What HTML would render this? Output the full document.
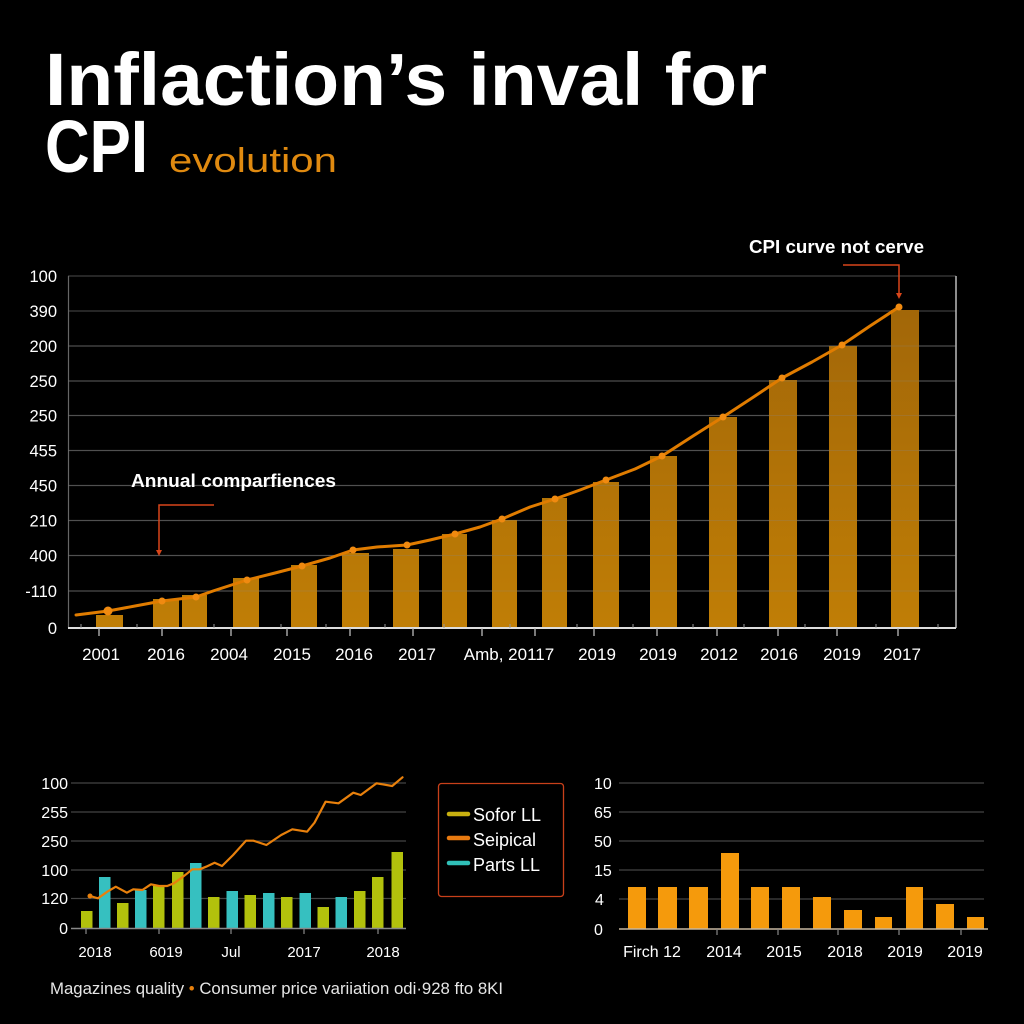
<!DOCTYPE html>
<html>
<head>
<meta charset="utf-8">
<style>
html,body{margin:0;padding:0;background:#000;}
body{width:1024px;height:1024px;overflow:hidden;}
svg{display:block;font-family:"Liberation Sans",sans-serif;}
</style>
</head>
<body>
<svg width="1024" height="1024" viewBox="0 0 1024 1024" xmlns="http://www.w3.org/2000/svg">
<defs>
<linearGradient id="barg" gradientUnits="userSpaceOnUse" x1="0" y1="300" x2="0" y2="628">
<stop offset="0" stop-color="#a16608"/>
<stop offset="1" stop-color="#c07e06"/>
</linearGradient>
</defs>
<rect width="1024" height="1024" fill="#000"/>

<!-- Title -->
<text x="45" y="105" fill="#fff" font-size="74" font-weight="bold" textLength="722" lengthAdjust="spacingAndGlyphs">Inflaction’s inval for</text>
<text x="45" y="172" fill="#fff" font-size="74" font-weight="bold" textLength="103" lengthAdjust="spacingAndGlyphs">CPI</text>
<text x="169" y="172" fill="#e08a10" font-size="34" textLength="168" lengthAdjust="spacingAndGlyphs">evolution</text>

<!-- Main chart gridlines -->
<g stroke="#3e3e3e" stroke-width="1.2">
<line x1="68" y1="276" x2="956" y2="276"/>
<line x1="68" y1="311" x2="956" y2="311"/>
<line x1="68" y1="346" x2="956" y2="346"/>
<line x1="68" y1="381" x2="956" y2="381"/>
<line x1="68" y1="415.5" x2="956" y2="415.5"/>
<line x1="68" y1="450.5" x2="956" y2="450.5"/>
<line x1="68" y1="485.5" x2="956" y2="485.5"/>
<line x1="68" y1="520.5" x2="956" y2="520.5"/>
<line x1="68" y1="555.5" x2="956" y2="555.5"/>
<line x1="68" y1="591" x2="956" y2="591"/>
</g>
<line x1="68.5" y1="276" x2="68.5" y2="628" stroke="#666" stroke-width="1.2"/>
<line x1="956" y1="276" x2="956" y2="628" stroke="#bbb" stroke-width="1.5"/>

<!-- Main bars -->
<g fill="url(#barg)">
<rect x="96" y="615" width="27" height="13"/>
<rect x="153" y="599" width="26" height="29"/>
<rect x="182" y="595" width="25" height="33"/>
<rect x="233" y="578" width="26" height="50"/>
<rect x="291" y="565" width="26" height="63"/>
<rect x="342" y="553" width="27" height="75"/>
<rect x="393" y="549" width="26" height="79"/>
<rect x="442" y="534" width="25" height="94"/>
<rect x="492" y="520" width="25" height="108"/>
<rect x="542" y="498" width="25" height="130"/>
<rect x="593" y="482" width="26" height="146"/>
<rect x="650" y="456" width="27" height="172"/>
<rect x="709" y="417" width="28" height="211"/>
<rect x="769" y="380" width="28" height="248"/>
<rect x="829" y="346" width="28" height="282"/>
<rect x="891" y="310" width="28" height="318"/>
</g>
<!-- faint gridlines through bars -->
<g stroke="#888" stroke-opacity="0.25" stroke-width="1">
<line x1="68" y1="346" x2="956" y2="346"/>
<line x1="68" y1="381" x2="956" y2="381"/>
<line x1="68" y1="415.5" x2="956" y2="415.5"/>
<line x1="68" y1="450.5" x2="956" y2="450.5"/>
<line x1="68" y1="485.5" x2="956" y2="485.5"/>
<line x1="68" y1="520.5" x2="956" y2="520.5"/>
<line x1="68" y1="555.5" x2="956" y2="555.5"/>
<line x1="68" y1="591" x2="956" y2="591"/>
</g>

<!-- bottom axis -->
<line x1="68" y1="628" x2="956" y2="628" stroke="#ddd" stroke-width="2"/>
<g stroke="#bbb" stroke-width="1.3">
<line x1="99" y1="628" x2="99" y2="636"/>
<line x1="162" y1="628" x2="162" y2="636"/>
<line x1="231" y1="628" x2="231" y2="636"/>
<line x1="287" y1="628" x2="287" y2="636"/>
<line x1="350" y1="628" x2="350" y2="636"/>
<line x1="413" y1="628" x2="413" y2="636"/>
<line x1="482" y1="628" x2="482" y2="636"/>
<line x1="535" y1="628" x2="535" y2="636"/>
<line x1="594" y1="628" x2="594" y2="636"/>
<line x1="657" y1="628" x2="657" y2="636"/>
<line x1="717" y1="628" x2="717" y2="636"/>
<line x1="778" y1="628" x2="778" y2="636"/>
<line x1="837" y1="628" x2="837" y2="636"/>
<line x1="898" y1="628" x2="898" y2="636"/>
</g>
<g stroke="#999" stroke-width="1">
<line x1="81" y1="624" x2="81" y2="628"/>
<line x1="137" y1="624" x2="137" y2="628"/>
<line x1="214" y1="624" x2="214" y2="628"/>
<line x1="281" y1="624" x2="281" y2="628"/>
<line x1="326" y1="624" x2="326" y2="628"/>
<line x1="385" y1="624" x2="385" y2="628"/>
<line x1="444" y1="624" x2="444" y2="628"/>
<line x1="510" y1="624" x2="510" y2="628"/>
<line x1="577" y1="624" x2="577" y2="628"/>
<line x1="633" y1="624" x2="633" y2="628"/>
<line x1="693" y1="624" x2="693" y2="628"/>
<line x1="744" y1="624" x2="744" y2="628"/>
<line x1="805" y1="624" x2="805" y2="628"/>
<line x1="876" y1="624" x2="876" y2="628"/>
<line x1="938" y1="624" x2="938" y2="628"/>
</g>

<!-- CPI line -->
<polyline fill="none" stroke="#e07c00" stroke-width="3" stroke-linejoin="round" stroke-linecap="round"
points="76,615 108,611 135,606 162,601 196,597 213,591 247,580 275,573 302,566 330,558 353,550 377,547 407,545 430,540 455,534 480,527 502,519 530,507 555,499 580,490 606,480 635,469 662,456 693,436 723,417 752,398 782,378 812,362 842,345 870,326 899,307"/>
<g fill="#f08a10">
<circle cx="108" cy="611" r="4.5"/>
<circle cx="162" cy="601" r="3.5"/>
<circle cx="196" cy="597" r="3.5"/>
<circle cx="247" cy="580" r="3.5"/>
<circle cx="302" cy="566" r="3.5"/>
<circle cx="353" cy="550" r="3.5"/>
<circle cx="407" cy="545" r="3.5"/>
<circle cx="455" cy="534" r="3.5"/>
<circle cx="502" cy="519" r="3.5"/>
<circle cx="555" cy="499" r="3.5"/>
<circle cx="606" cy="480" r="3.5"/>
<circle cx="662" cy="456" r="3.5"/>
<circle cx="723" cy="417" r="3.5"/>
<circle cx="782" cy="378" r="3.5"/>
<circle cx="842" cy="345" r="3.5"/>
<circle cx="899" cy="307" r="3.5"/>
</g>

<!-- Y labels main -->
<g fill="#fff" font-size="16.5" text-anchor="end">
<text x="57" y="282">100</text>
<text x="57" y="317">390</text>
<text x="57" y="352">200</text>
<text x="57" y="387">250</text>
<text x="57" y="421.5">250</text>
<text x="57" y="456.5">455</text>
<text x="57" y="491.5">450</text>
<text x="57" y="526.5">210</text>
<text x="57" y="561.5">400</text>
<text x="57" y="597">-110</text>
<text x="57" y="634">0</text>
</g>

<!-- X labels main -->
<g fill="#fff" font-size="17" text-anchor="middle">
<text x="101" y="660">2001</text>
<text x="166" y="660">2016</text>
<text x="229" y="660">2004</text>
<text x="292" y="660">2015</text>
<text x="354" y="660">2016</text>
<text x="417" y="660">2017</text>
<text x="509" y="660">Amb, 20117</text>
<text x="597" y="660">2019</text>
<text x="658" y="660">2019</text>
<text x="719" y="660">2012</text>
<text x="779" y="660">2016</text>
<text x="842" y="660">2019</text>
<text x="902" y="660">2017</text>
</g>

<!-- Annotations -->
<text x="131" y="487" fill="#fff" font-size="18.5" font-weight="bold" textLength="205" lengthAdjust="spacingAndGlyphs">Annual comparfiences</text>
<polyline points="214,505 159,505 159,551" fill="none" stroke="#d9461a" stroke-width="1.5"/>
<polygon points="156,550 162,550 159,556" fill="#d9461a"/>

<text x="749" y="253" fill="#fff" font-size="18.5" font-weight="bold" textLength="175" lengthAdjust="spacingAndGlyphs">CPI curve not cerve</text>
<polyline points="843,265 899,265 899,294" fill="none" stroke="#d9461a" stroke-width="1.5"/>
<polygon points="896,293 902,293 899,299" fill="#d9461a"/>

<!-- Bottom-left chart -->
<g stroke="#444" stroke-width="1.2">
<line x1="71" y1="783" x2="406" y2="783"/>
<line x1="71" y1="812" x2="406" y2="812"/>
<line x1="71" y1="841" x2="406" y2="841"/>
<line x1="71" y1="870" x2="406" y2="870"/>
<line x1="71" y1="898.5" x2="406" y2="898.5"/>
</g>
<g fill="#b2c10c">
<rect x="81" y="911" width="11.5" height="17"/>
<rect x="117" y="903" width="11.5" height="25"/>
<rect x="153" y="886" width="11.5" height="42"/>
<rect x="172" y="872" width="11.5" height="56"/>
<rect x="208" y="897" width="11.5" height="31"/>
<rect x="244.5" y="895" width="11.5" height="33"/>
<rect x="281" y="897" width="11.5" height="31"/>
<rect x="317.5" y="907" width="11.5" height="21"/>
<rect x="354" y="891" width="11.5" height="37"/>
<rect x="372" y="877" width="11.5" height="51"/>
<rect x="391.5" y="852" width="11.5" height="76"/>
</g>
<g fill="#36c0c0">
<rect x="99" y="877" width="11.5" height="51"/>
<rect x="135" y="890" width="11.5" height="38"/>
<rect x="190" y="863" width="11.5" height="65"/>
<rect x="226.5" y="891" width="11.5" height="37"/>
<rect x="263" y="893" width="11.5" height="35"/>
<rect x="299.5" y="893" width="11.5" height="35"/>
<rect x="335.5" y="897" width="11.5" height="31"/>
</g>
<line x1="71" y1="928.5" x2="406" y2="928.5" stroke="#888" stroke-width="1.5"/>
<g stroke="#888" stroke-width="1.2">
<line x1="86" y1="928" x2="86" y2="934"/>
<line x1="159" y1="928" x2="159" y2="934"/>
<line x1="231" y1="928" x2="231" y2="934"/>
<line x1="304" y1="928" x2="304" y2="934"/>
<line x1="378" y1="928" x2="378" y2="934"/>
</g>
<polyline fill="none" stroke="#e8800c" stroke-width="2.2" stroke-linejoin="round" stroke-linecap="round"
points="90,896 98,898.3 107.3,891.7 115.8,886.7 126.9,892.7 133.2,889.3 142.4,890 150.9,884.3 159.1,886 167.2,886 173.9,883.3 183.1,876.7 192.4,869.3 199.8,869.3 206.1,866.7 214.6,862.7 222,866 233.1,855 246,840.7 253.4,840.7 266.4,845 281.2,835 292.3,829.3 307.1,831.7 314.5,822.7 325.6,801.7 338.5,803.3 353.3,792.7 360.7,795 376.6,783.3 392.2,786 402.5,777.3"/>
<circle cx="90" cy="896" r="2.5" fill="#e8800c"/>
<g fill="#fff" font-size="16" text-anchor="end">
<text x="68" y="789">100</text>
<text x="68" y="818">255</text>
<text x="68" y="847">250</text>
<text x="68" y="876">100</text>
<text x="68" y="904">120</text>
<text x="68" y="934">0</text>
</g>
<g fill="#fff" font-size="15" text-anchor="middle">
<text x="95" y="957">2018</text>
<text x="166" y="957">6019</text>
<text x="231" y="957">Jul</text>
<text x="304" y="957">2017</text>
<text x="383" y="957">2018</text>
</g>

<!-- Legend -->
<rect x="438.5" y="783.5" width="125" height="113" rx="3" fill="none" stroke="#c8401a" stroke-width="1.3"/>
<g stroke-width="4.5" stroke-linecap="round">
<line x1="449" y1="814" x2="468" y2="814" stroke="#c8b010"/>
<line x1="449" y1="838" x2="468" y2="838" stroke="#e87a10"/>
<line x1="449" y1="863" x2="468" y2="863" stroke="#30c0b8"/>
</g>
<g fill="#fff" font-size="18">
<text x="473" y="821">Sofor LL</text>
<text x="473" y="846">Seipical</text>
<text x="473" y="871">Parts LL</text>
</g>

<!-- Caption -->
<text x="50" y="994" fill="#e6e6e6" font-size="16.8" textLength="453" lengthAdjust="spacingAndGlyphs">Magazines quality <tspan fill="#e8800c">•</tspan> Consumer price variiation odi·928 fto 8KI</text>

<!-- Bottom-right chart -->
<g stroke="#444" stroke-width="1.2">
<line x1="619" y1="783" x2="984" y2="783"/>
<line x1="619" y1="812" x2="984" y2="812"/>
<line x1="619" y1="841" x2="984" y2="841"/>
<line x1="619" y1="870" x2="984" y2="870"/>
<line x1="619" y1="899" x2="984" y2="899"/>
</g>
<g fill="#f59a0c">
<rect x="628" y="887" width="18" height="42"/>
<rect x="658" y="887" width="19" height="42"/>
<rect x="689" y="887" width="19" height="42"/>
<rect x="721" y="853" width="18" height="76"/>
<rect x="751" y="887" width="18" height="42"/>
<rect x="782" y="887" width="18" height="42"/>
<rect x="813" y="897" width="18" height="32"/>
<rect x="844" y="910" width="18" height="19"/>
<rect x="875" y="917" width="17" height="12"/>
<rect x="906" y="887" width="17" height="42"/>
<rect x="936" y="904" width="18" height="25"/>
<rect x="967" y="917" width="17" height="12"/>
</g>
<line x1="619" y1="929" x2="988" y2="929" stroke="#c8b8a0" stroke-width="1.5"/>
<g stroke="#888" stroke-width="1.2">
<line x1="717" y1="929" x2="717" y2="935"/>
<line x1="778" y1="929" x2="778" y2="935"/>
<line x1="838" y1="929" x2="838" y2="935"/>
<line x1="899" y1="929" x2="899" y2="935"/>
<line x1="961" y1="929" x2="961" y2="935"/>
</g>
<g fill="#fff" font-size="16">
<text x="594" y="789">10</text>
<text x="594" y="818">65</text>
<text x="594" y="847">50</text>
<text x="594" y="876">15</text>
<text x="595" y="905">4</text>
<text x="594" y="935">0</text>
</g>
<g fill="#fff" font-size="16" text-anchor="middle">
<text x="652" y="957">Firch 12</text>
<text x="724" y="957">2014</text>
<text x="784" y="957">2015</text>
<text x="845" y="957">2018</text>
<text x="905" y="957">2019</text>
<text x="965" y="957">2019</text>
</g>
</svg>
</body>
</html>
